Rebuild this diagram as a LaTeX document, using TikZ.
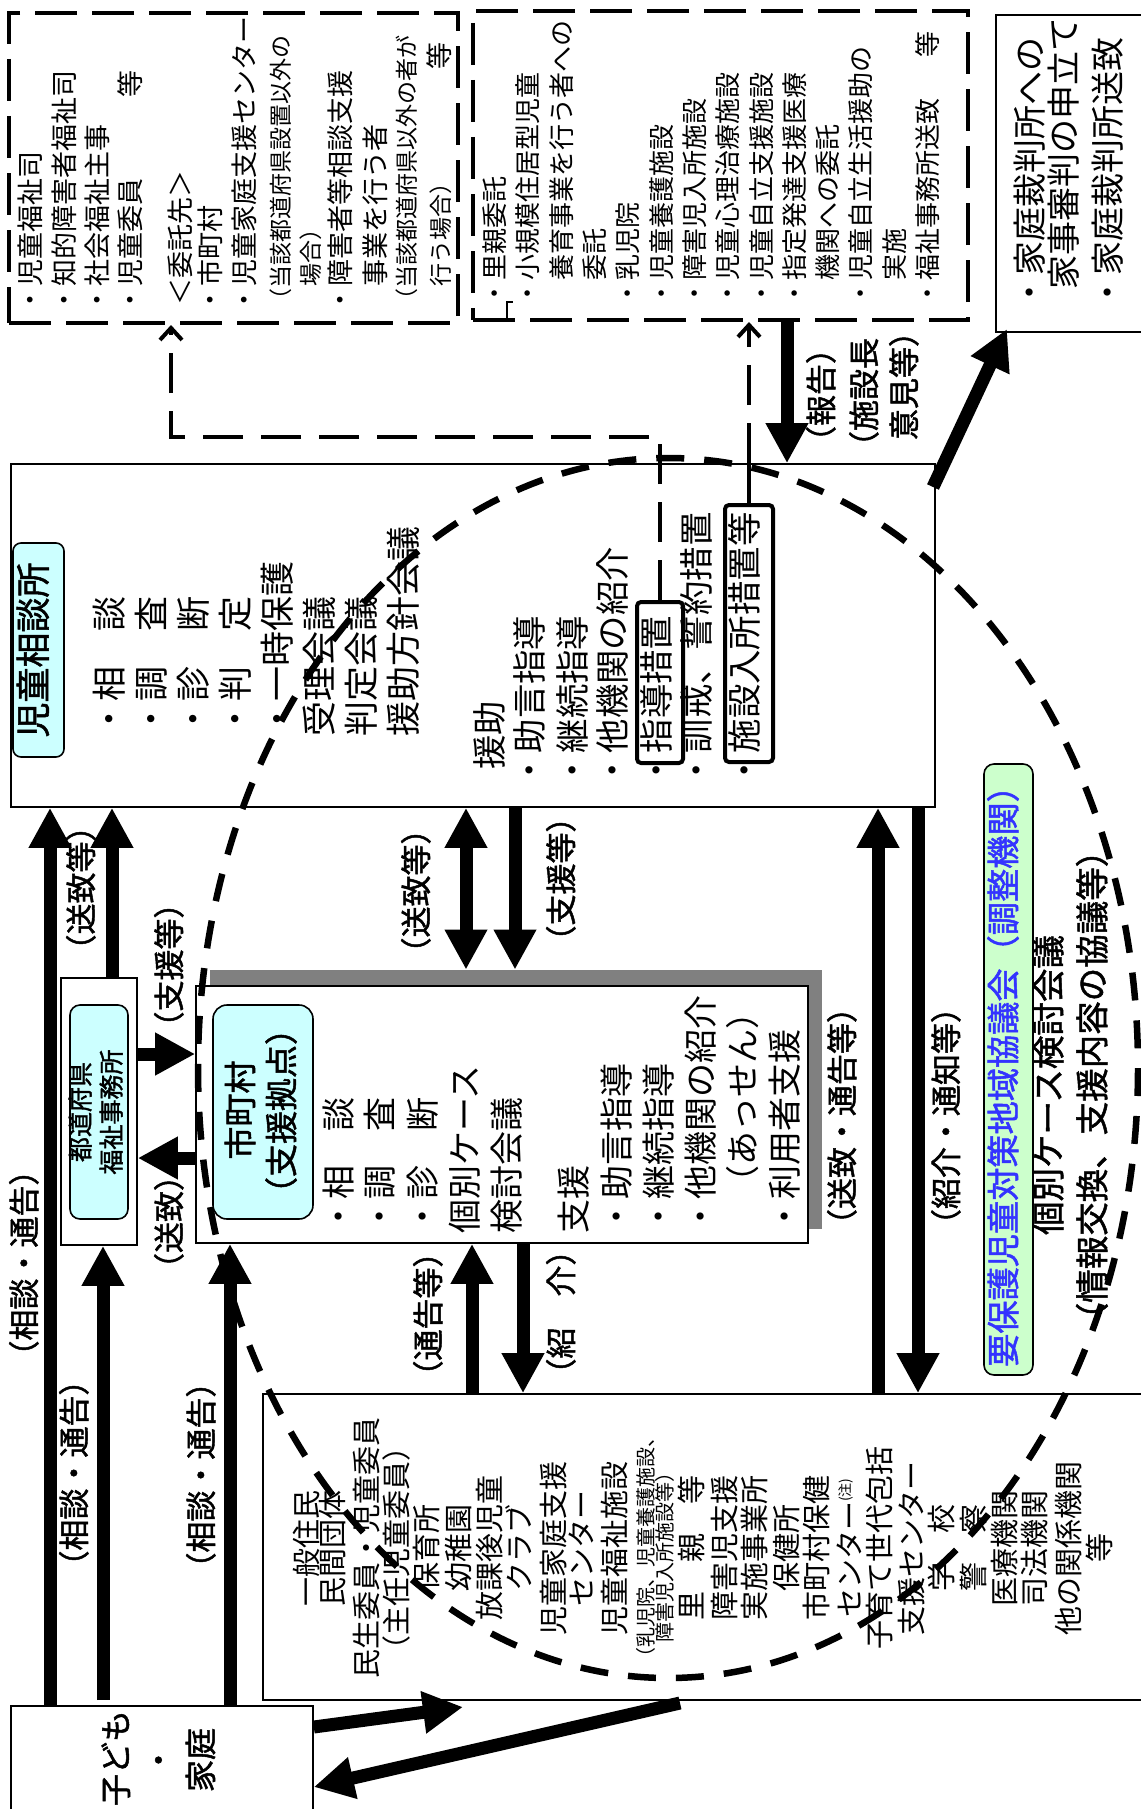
\documentclass[tikz,border=0pt]{standalone}
\usepackage{fontspec}
\setmainfont{Noto Sans CJK JP}
\newfontfamily\jpb{Noto Sans CJK JP}[FakeBold=1.5]
\usetikzlibrary{arrows.meta,fit}
\newcommand{\myfs}[1]{\fontsize{#1pt}{#1pt}\selectfont}
\definecolor{cyanbox}{HTML}{CCFFFF}
\definecolor{greenbox}{HTML}{CCFFCC}
\definecolor{bluetext}{RGB}{51,51,255}
\definecolor{shadowgray}{HTML}{808080}
\begin{document}
\begin{tikzpicture}[x=0.5pt,y=-0.5pt,
  tx/.style={rotate=90, inner sep=0pt, anchor=west, text height=0.88em, text depth=0.12em},
  lbl/.style={rotate=90, inner sep=0pt, anchor=center, text height=0.88em, text depth=0.12em, font=\jpb\myfs{15.5}},
  bl/.style={rotate=90, inner sep=0pt, anchor=center, text height=0.88em, text depth=0.12em, font=\myfs{14.5}},
  box/.style={draw, line width=0.8pt, inner sep=0pt, fill=white},
  dbox/.style={draw, line width=2pt, dash pattern=on 21pt off 7.5pt, inner sep=0pt},
  big/.style={line width=6.5pt, -{Triangle[width=20pt,length=20pt]}},
  dbl/.style={line width=6.5pt, {Triangle[width=20pt,length=20pt]}-{Triangle[width=20pt,length=20pt]}},
  dconn/.style={line width=2pt, dash pattern=on 20pt off 9pt},
  chev/.style={-{Straight Barb[length=6pt,width=11pt]}},
  capbox/.style={draw, line width=0.8pt, inner sep=0pt, fill=cyanbox, rounded corners=5pt}
]
\fill[white] (0,0) rectangle (1140,1809);
\useasboundingbox (0,0) rectangle (1140,1809);

% ---------- top-left dashed box
\node[dbox, fit={(9,13) (458,323)}] (tl) {};
\foreach \nm/\px/\py/\lab in {1/33/314/{・児童福祉司}, 2/67/314/{・知的障害者福祉司}, 3/100/314/{・社会福祉主事}, 4/133/314/{・児童委員　　　等}, 5/183/306/{＜委託先＞}, 6/213/314/{・市町村}, 7/247/314/{・児童家庭支援センター}, 10/343/314/{・障害者等相談支援}, 11/378/287/{事業を行う者}}
  \node[tx, font=\myfs{13.5}] (tl\nm) at (\px,\py) {\lab};
\foreach \nm/\px/\py/\lab in {8/282/312/{（当該都道府県設置以外の}, 9/312/287/{場合）}, 12/408/312/{（当該都道府県以外の者が}, 13/442/287/{行う場合）}}
  \node[tx, font=\myfs{11.5}] (tl\nm) at (\px,\py) {\lab};
\node[tx, font=\myfs{13.5}] (tl14) at (442,70) {等};

% ---------- top-middle dashed box
\node[dbox, fit={(473,11) (968,320)}] (tm) {};
\foreach \nm/\lab in {0/{・里親委託}, 1/{・小規模住居型児童}, 2/{　養育事業を行う者への}, 3/{　委託}, 4/{・乳児院}, 5/{・児童養護施設}, 6/{・障害児入所施設}, 7/{・児童心理治療施設}, 8/{・児童自立支援施設}, 9/{・指定発達支援医療}, 10/{　機関への委託}, 11/{・児童自立生活援助の}, 12/{　実施}, 13/{・福祉事務所送致\hspace{1.6em}等}}
  \node[tx, font=\myfs{13}] (tm\nm) at ({497+33.3*\nm},307) {\lab};
\draw[line width=0.8pt] (507,321) -- (507,302) -- (513,302);

% ---------- top-right box
\node[box, fit={(996,15) (1145,332)}] (tr) {};
\node[tx, font=\myfs{17}] (tr1) at (1035,310) {・家庭裁判所への};
\node[tx, font=\myfs{17}] (tr2) at (1069,290) {家事審判の申立て};
\node[tx, font=\myfs{17}] (tr3) at (1113,310) {・家庭裁判所送致};

% ---------- 児童相談所
\node[box, fit={(11,464) (935,807)}] (soudan) {};
\node[capbox, rounded corners=4pt, fit={(13,543) (64,757)}] (soudanT) {};
\node[lbl, font=\jpb\myfs{17.5}] (soudanTt) at (soudanT.center) {児童相談所};
\foreach \nm/\px/\lab in {1/115/{・相　談}, 2/157/{・調　査}, 3/199/{・診　断}, 4/241/{・判　定}, 5/283/{・一時保護}, 6/325/{受理会議}, 7/367/{判定会議}, 8/409/{援助方針会議}}
  \node[tx, font=\myfs{17.5}] (sa\nm) at (\px,737) {\lab};
\node[tx, font=\myfs{17.2}] (sb0) at (495,770) {援助};
\foreach \nm/\px/\lab in {1/535/{・助言指導}, 2/578/{・継続指導}, 3/618/{・他機関の紹介}, 4/662/{・指導措置}, 5/702/{・訓戒、誓約措置}, 6/750/{・施設入所措置等}}
  \node[tx, font=\myfs{17.2}] (sb\nm) at (\px,788) {\lab};
\node[draw, line width=2pt, rounded corners=2pt, inner sep=0pt, fit={(637,602) (683,763)}] (shidou) {};
\node[draw, line width=2pt, rounded corners=2pt, inner sep=0pt, fit={(725,505) (773,762)}] (shisetsu) {};

% ---------- 市町村
\node[fill=shadowgray, inner sep=0pt, fit={(210,970) (822,1229)}] (shadow) {};
\node[box, fit={(196,986) (808,1243)}] (shi) {};
\node[capbox, rounded corners=7pt, fit={(213,1005) (313,1219)}] (shiT) {};
\node[lbl, font=\jpb\myfs{16.5}] (shiT1) at (245,1110) {市町村};
\node[lbl, font=\jpb\myfs{16.5}] (shiT2) at (286,1111) {（支援拠点）};
\foreach \nm/\px/\lab in {1/344/{・相　談}, 2/385/{・調　査}, 3/428/{・診　断}, 4/470/{個別ケース}, 5/512/{検討会議}, 6/579/{支援}, 7/622/{・助言指導}, 8/664/{・継続指導}, 9/706/{・他機関の紹介}, 10/748/{　（あっせん）}, 11/790/{・利用者支援}}
  \node[tx, font=\myfs{17}] (sh\nm) at (\px,1234) {\lab};

% ---------- 都道府県福祉事務所
\node[box, fit={(61,978) (137,1245)}] (todo) {};
\node[capbox, fit={(70,1005) (128,1219)}] (todoT) {};
\node[lbl, font=\jpb\myfs{12.5}] (todo1) at (82,1112) {都道府県};
\node[lbl, font=\jpb\myfs{12.5}] (todo2) at (113,1112) {福祉事務所};

% ---------- bottom box
\node[box, fit={(263,1394) (1145,1700)}] (bottom) {};
\foreach \nm/\px/\lab in {1/310/{一般住民}, 2/336/{民間団体}, 3/370/{民生委員・児童委員}, 4/400/{（主任児童委員）}, 5/430/{保育所}, 6/462/{幼稚園}, 7/493/{放課後児童}, 8/523/{クラブ}, 9/557/{児童家庭支援}, 10/585/{センター}, 11/618/{児童福祉施設}, 14/695/{里　親　等}, 15/728/{障害児支援}, 16/758/{実施事業所}, 17/790/{保健所}, 18/820/{市町村保健}, 19/853/{センター\raisebox{0.35em}{\myfs{7}(注)}}, 20/883/{子育て世代包括}, 21/915/{支援センター}, 22/945/{学　校}, 23/977/{警　察}, 24/1008/{医療機関}, 25/1038/{司法機関}, 26/1072/{他の関係機関}, 27/1103/{等}}
  \node[bl] (bt\nm) at (\px,1548) {\lab};
\node[bl, font=\myfs{10}] (bt12) at (646,1547) {（乳児院、児童養護施設、};
\node[bl, font=\myfs{10}] (bt13) at (665,1552) {障害児入所施設等）};

% ---------- 子ども・家庭
\node[box, fit={(11,1706) (313,1815)}] (kodomo) {};
\node[lbl, font=\jpb\myfs{16}] (kod1) at (120,1758) {子ども};
\node[lbl, font=\jpb\myfs{16}] (kod2) at (163,1760) {・};
\node[lbl, font=\jpb\myfs{16}] (kod3) at (205,1760) {家庭};

% ---------- 要保護児童対策地域協議会
\node[capbox, fill=greenbox, fit={(984,764) (1033,1375)}] (green) {};
\node[lbl, font=\jpb\myfs{16.6}, text=bluetext] (greenT) at (1008,1068) {要保護児童対策地域協議会（調整機関）};
\node[lbl, font=\jpb\myfs{16.75}] (kobetsu) at (1053,1085) {個別ケース検討会議};
\node[lbl, font=\jpb\myfs{16.75}] (jouhou) at (1097,1085) {（情報交換、支援内容の協議等）};

% ---------- lanes
\coordinate (xA) at (50,0);  \coordinate (xB) at (112,0); \coordinate (xC) at (103,0);
\coordinate (xD) at (230,0); \coordinate (xE) at (466,0); \coordinate (xF) at (515,0);
\coordinate (xG) at (472,0); \coordinate (xH) at (523,0); \coordinate (xI) at (878,0);
\coordinate (xJ) at (918,0); \coordinate (xK) at (787,0);
\coordinate (yA) at (0,1054); \coordinate (yB) at (0,1158);
\coordinate (d1) at (933,487); \coordinate (d2) at (1007,329);
\coordinate (ka) at (0,1727); \coordinate (kb) at (463,1707);
\coordinate (kc) at (680,1703); \coordinate (kd) at (0,1787);
\coordinate (j1) at (663,437); \coordinate (j2) at (171,437);
\coordinate (cC) at (103,1700);

% ---------- arrows
\draw[big] (kodomo.north -| xA) -- (soudan.south -| xA);
\draw[big] (todo.north -| xB) -- (soudan.south -| xB);
\draw[big] (cC) -- (todo.south -| xC);
\draw[big] (kodomo.north -| xD) -- (shi.south -| xD);
\draw[big] (todo.east |- yA) -- (shi.west |- yA);
\draw[big] (shi.west |- yB) -- (todo.east |- yB);
\draw[dbl] (soudan.south -| xE) -- (shadow.north -| xE);
\draw[big] (soudan.south -| xF) -- (shadow.north -| xF);
\draw[big] (bottom.north -| xG) -- (shi.south -| xG);
\draw[big] (shi.south -| xH) -- (bottom.north -| xH);
\draw[big] (bottom.north -| xI) -- (soudan.south -| xI);
\draw[big] (soudan.south -| xJ) -- (bottom.north -| xJ);
\draw[big] (tm.south -| xK) -- (soudan.north -| xK);
\draw[big] (d1) -- (d2);
\draw[big] (kodomo.east |- ka) -- (kb);
\draw[big] (kc) -- (kodomo.east |- kd);

% ---------- dashed connectors
\draw[dconn, chev] (shidou.north) -- (shidou.north |- j1) -- (j2) -- (j2 |- tl.south);
\draw[line width=2pt] (shisetsu.north) -- (shisetsu.north |- soudan.north);
\draw[dconn, chev] (shisetsu.north |- soudan.north) -- (shisetsu.north |- tm.south);

% ---------- labels
\node[lbl] (lb1) at (85,888) {（送致等）};
\node[lbl] (lb2) at (173,965) {（支援等）};
\node[lbl] (lb3) at (173,1222) {（送致）};
\node[lbl] (lb4) at (28,1263) {（相談・通告）};
\node[lbl] (lb5) at (78,1473) {（相談・通告）};
\node[lbl] (lb6) at (205,1475) {（相談・通告）};
\node[lbl] (lb7) at (420,891) {（送致等）};
\node[lbl] (lb8) at (565,879) {（支援等）};
\node[lbl] (lb9) at (432,1314) {（通告等）};
\node[lbl] (lb10) at (565,1312) {（紹　介）};
\node[lbl] (lb11) at (846,1116) {（送致・通告等）};
\node[lbl] (lb12) at (950,1116) {（紹介・通知等）};
\node[lbl] (lb13) at (825,395) {（報告）};
\node[lbl] (lb14) at (868,400) {（施設長};
\node[lbl] (lb15) at (908,378) {意見等）};

% ---------- dashed ellipse
\draw[line width=3.25pt, dash pattern=on 14pt off 10pt] (668,1068) ellipse [x radius=470, y radius=610];
\end{tikzpicture}
\end{document}
